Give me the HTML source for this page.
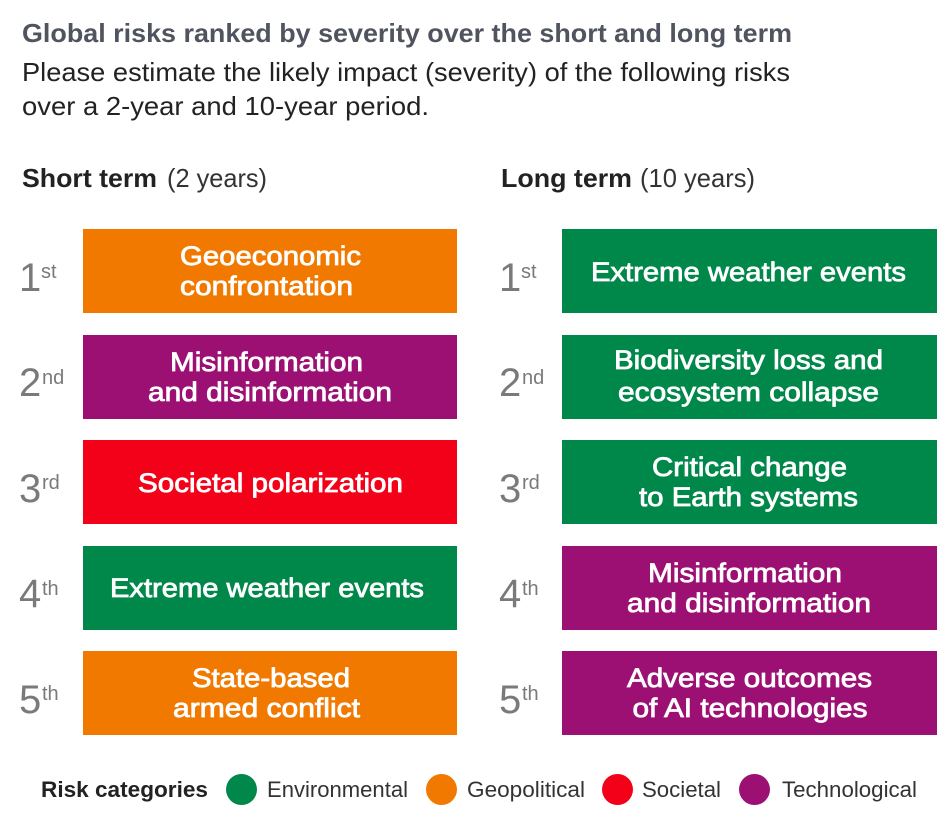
<!DOCTYPE html>
<html>
<head>
<meta charset="utf-8">
<style>
  html,body{margin:0;padding:0;background:#fff;}
  svg{display:block;}
  text{font-family:"Liberation Sans", Arial, sans-serif;}
  .bx{font-weight:normal;font-size:27px;fill:#fff;stroke:#fff;stroke-width:0.8px;}
  .dg{font-size:40px;fill:#7a7a7a;}
  .sp{font-size:20px;fill:#7a7a7a;}
  .lg{font-size:22px;fill:#333;}
</style>
</head>
<body>
<svg width="950" height="821" viewBox="0 0 950 821" xmlns="http://www.w3.org/2000/svg">
  <rect x="0" y="0" width="950" height="821" fill="#fff"/>

  <!-- Title -->
  <text x="22" y="42" font-size="26" font-weight="bold" fill="#50545f" textLength="770" lengthAdjust="spacingAndGlyphs">Global risks ranked by severity over the short and long term</text>
  <text x="22" y="81" font-size="26" fill="#222" textLength="768" lengthAdjust="spacingAndGlyphs">Please estimate the likely impact (severity) of the following risks</text>
  <text x="22" y="115" font-size="26" fill="#222" textLength="407" lengthAdjust="spacingAndGlyphs">over a 2-year and 10-year period.</text>

  <!-- Column headers -->
  <text x="22" y="187" font-size="26" font-weight="bold" fill="#222" textLength="135" lengthAdjust="spacingAndGlyphs">Short term</text>
  <text x="167" y="187" font-size="26" fill="#333" textLength="100" lengthAdjust="spacingAndGlyphs">(2 years)</text>
  <text x="501" y="187" font-size="26" font-weight="bold" fill="#222" textLength="131" lengthAdjust="spacingAndGlyphs">Long term</text>
  <text x="640" y="187" font-size="26" fill="#333" textLength="115" lengthAdjust="spacingAndGlyphs">(10 years)</text>

  <!-- Boxes left -->
  <rect x="83" y="229" width="374" height="84" fill="#f27900"/>
  <rect x="83" y="335" width="374" height="84" fill="#9c1074"/>
  <rect x="83" y="440" width="374" height="84" fill="#f30019"/>
  <rect x="83" y="546" width="374" height="84" fill="#00874a"/>
  <rect x="83" y="651" width="374" height="84" fill="#f27900"/>

  <!-- Boxes right -->
  <rect x="562" y="229" width="375" height="84" fill="#00874a"/>
  <rect x="562" y="335" width="375" height="84" fill="#00874a"/>
  <rect x="562" y="440" width="375" height="84" fill="#00874a"/>
  <rect x="562" y="546" width="375" height="84" fill="#9c1074"/>
  <rect x="562" y="651" width="375" height="84" fill="#9c1074"/>

  <!-- Left box text -->
  <text class="bx" x="270.5" y="265" text-anchor="middle" textLength="181" lengthAdjust="spacingAndGlyphs">Geoeconomic</text>
  <text class="bx" x="266.5" y="295" text-anchor="middle" textLength="173" lengthAdjust="spacingAndGlyphs">confrontation</text>

  <text class="bx" x="266.5" y="371" text-anchor="middle" textLength="193" lengthAdjust="spacingAndGlyphs">Misinformation</text>
  <text class="bx" x="270" y="401" text-anchor="middle" textLength="244" lengthAdjust="spacingAndGlyphs">and disinformation</text>

  <text class="bx" x="270.5" y="492" text-anchor="middle" textLength="265" lengthAdjust="spacingAndGlyphs">Societal polarization</text>

  <text class="bx" x="267" y="597" text-anchor="middle" textLength="314" lengthAdjust="spacingAndGlyphs">Extreme weather events</text>

  <text class="bx" x="271" y="687" text-anchor="middle" textLength="158" lengthAdjust="spacingAndGlyphs">State-based</text>
  <text class="bx" x="266.5" y="717" text-anchor="middle" textLength="187" lengthAdjust="spacingAndGlyphs">armed conflict</text>

  <!-- Right box text -->
  <text class="bx" x="748.5" y="281" text-anchor="middle" textLength="315" lengthAdjust="spacingAndGlyphs">Extreme weather events</text>

  <text class="bx" x="748.5" y="369" text-anchor="middle" textLength="269" lengthAdjust="spacingAndGlyphs">Biodiversity loss and</text>
  <text class="bx" x="748.5" y="401" text-anchor="middle" textLength="261" lengthAdjust="spacingAndGlyphs">ecosystem collapse</text>

  <text class="bx" x="749.5" y="476" text-anchor="middle" textLength="195" lengthAdjust="spacingAndGlyphs">Critical change</text>
  <text class="bx" x="748.5" y="506" text-anchor="middle" textLength="219" lengthAdjust="spacingAndGlyphs">to Earth systems</text>

  <text class="bx" x="745" y="582" text-anchor="middle" textLength="194" lengthAdjust="spacingAndGlyphs">Misinformation</text>
  <text class="bx" x="749" y="612" text-anchor="middle" textLength="244" lengthAdjust="spacingAndGlyphs">and disinformation</text>

  <text class="bx" x="749.5" y="687" text-anchor="middle" textLength="245" lengthAdjust="spacingAndGlyphs">Adverse outcomes</text>
  <text class="bx" x="750" y="717" text-anchor="middle" textLength="235" lengthAdjust="spacingAndGlyphs">of AI technologies</text>

  <!-- Ranks left -->
  <text class="dg" x="19" y="291">1</text><text class="sp" x="41" y="278">st</text>
  <text class="dg" x="19" y="396">2</text><text class="sp" x="42" y="384">nd</text>
  <text class="dg" x="19" y="502">3</text><text class="sp" x="42" y="489">rd</text>
  <text class="dg" x="19" y="607">4</text><text class="sp" x="42" y="595">th</text>
  <text class="dg" x="19" y="713">5</text><text class="sp" x="42" y="700">th</text>

  <!-- Ranks right -->
  <text class="dg" x="499" y="291">1</text><text class="sp" x="521" y="278">st</text>
  <text class="dg" x="499" y="396">2</text><text class="sp" x="522" y="384">nd</text>
  <text class="dg" x="499" y="502">3</text><text class="sp" x="522" y="489">rd</text>
  <text class="dg" x="499" y="607">4</text><text class="sp" x="522" y="595">th</text>
  <text class="dg" x="499" y="713">5</text><text class="sp" x="522" y="700">th</text>

  <!-- Legend -->
  <text x="41" y="797" font-size="22" font-weight="bold" fill="#222" textLength="167" lengthAdjust="spacingAndGlyphs">Risk categories</text>
  <circle cx="241.5" cy="789.5" r="15.5" fill="#00874a"/>
  <text class="lg" x="267" y="797" textLength="141" lengthAdjust="spacingAndGlyphs">Environmental</text>
  <circle cx="441.5" cy="789.5" r="15.5" fill="#f27900"/>
  <text class="lg" x="467" y="797" textLength="118" lengthAdjust="spacingAndGlyphs">Geopolitical</text>
  <circle cx="617.5" cy="789.5" r="15.5" fill="#f30019"/>
  <text class="lg" x="642" y="797" textLength="79" lengthAdjust="spacingAndGlyphs">Societal</text>
  <circle cx="754.5" cy="789.5" r="15.5" fill="#9c1074"/>
  <text class="lg" x="782" y="797" textLength="135" lengthAdjust="spacingAndGlyphs">Technological</text>
</svg>
</body>
</html>
